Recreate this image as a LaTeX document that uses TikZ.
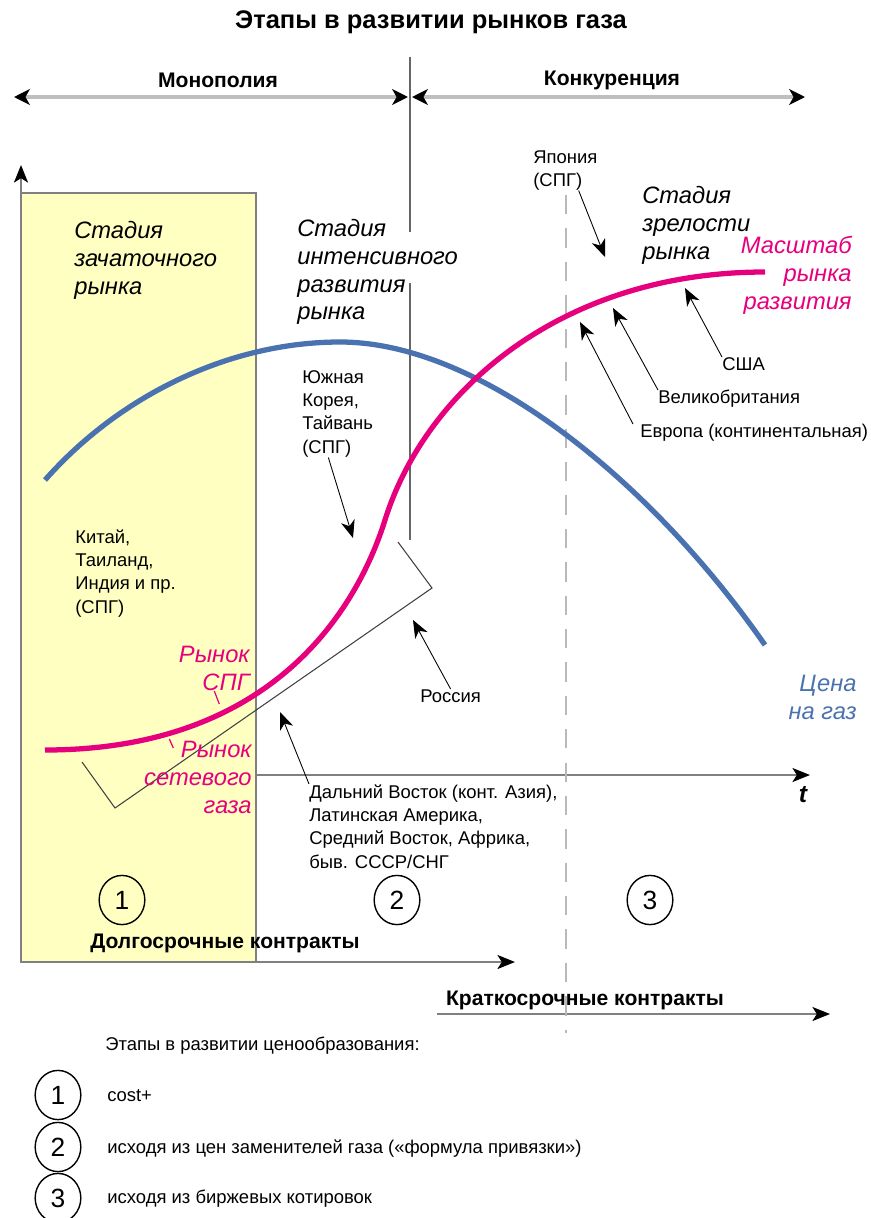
\documentclass[tikz,border=0pt]{standalone}
\usepackage{fontspec}
\setmainfont{Liberation Sans}
\usetikzlibrary{arrows.meta,shapes.geometric}
\definecolor{pinkc}{HTML}{E6007E}
\definecolor{bluec}{HTML}{4A72B0}
\definecolor{yell}{HTML}{FFFFC2}

\begin{document}
\begin{tikzpicture}[x=0.02cm,y=-0.02cm,
  txt/.style={anchor=north west,inner sep=0pt,align=left,font=\fontsize{10.5}{13.3}\selectfont},
  stage/.style={anchor=north west,inner sep=0pt,align=left,font=\fontsize{13.5}{15.8}\selectfont\itshape},
  boldlbl/.style={inner sep=0pt,font=\fontsize{12}{14}\selectfont\bfseries},
  num/.style={draw,ellipse,line width=0.8pt,minimum width=26pt,minimum height=28pt,inner sep=0pt,font=\fontsize{15}{15}\selectfont},
  ptr/.style={-{Stealth[length=10pt,width=8pt,inset=3pt]},line width=0.5pt},
  axis/.style={gray,line width=1.1pt,-{Stealth[color=black,length=10pt,width=8pt,inset=2.5pt]}},
  tick/.style={pinkc,line width=0.7pt}]
  \useasboundingbox (0,0) rectangle (871,1218);
  \node (title) at (431,22) {\fontsize{14.5}{16}\selectfont\bfseries Этапы в развитии рынков газа};
  % Monopoly / competition
  \draw[gray!50,line width=1.8pt,{Stealth[color=black,length=9pt,width=9pt,inset=2.5pt]}-{Stealth[color=black,length=9pt,width=9pt,inset=2.5pt]}] (14,97) -- (408,97);
  \draw[gray!50,line width=1.8pt,{Stealth[color=black,length=9pt,width=9pt,inset=2.5pt]}-{Stealth[color=black,length=9pt,width=9pt,inset=2.5pt]}] (412,97) -- (805,97);
  \node[boldlbl] (mono) at (218,80) {Монополия};
  \node[boldlbl] (konk) at (612,80) {Конкуренция};
  \draw[gray!80!black,line width=0.6pt] (410,57) -- (410,232) (410,283) -- (410,540);
  % Axes and stages
  \filldraw[fill=yell,draw=gray,line width=0.8pt] (21,193) rectangle (256,962);
  \draw[axis] (21,962) -- (21,165);
  \draw[axis] (256,775) -- (810,775);
  \draw[axis] (21,962) -- (515,962);
  \draw[axis] (437,1014) -- (830,1014);
  \draw[gray!55,line width=1.6pt,dash pattern=on 11pt off 8pt] (566,195) -- (566,1033);
  \node[font=\fontsize{14}{14}\selectfont\bfseries\itshape] (t) at (803,795) {t};
  \node[boldlbl] (longterm) at (225,943) {Долгосрочные контракты};
  \node[boldlbl] (shortterm) at (585,1000) {Краткосрочные контракты};
  \node[stage] (st1) at (74,221) {Стадия\\зачаточного\\рынка};
  \node[stage] (st2) at (297,219) {Стадия\\интенсивного\\развития\\рынка};
  \node[stage] (st3) at (642,186) {Стадия\\зрелости\\рынка};
  % Curves
  \draw[bluec,line width=3pt] (45,480) .. controls (120,395) and (230,342) .. (340,342)
    .. controls (480,342) and (650,480) .. (765,645);
  \draw[pinkc,line width=3pt] (45,750) .. controls (280,750) and (360,600) .. (385,520)
    .. controls (425,392) and (560,272) .. (765,272);
  \draw[black!75,line width=0.6pt] (82,762) -- (115,808) -- (432,588) -- (398,542);
  \node[stage,anchor=north east,align=right,text=pinkc] (scale) at (852,236) {Масштаб\\рынка\\развития};
  \node[stage,anchor=north east,align=right,text=bluec] (price) at (857,675) {Цена\\на газ};
  \node[stage,anchor=north east,align=right,text=pinkc] (lng) at (250,646) {Рынок\\СПГ};
  \node[stage,anchor=north east,align=right,text=pinkc] (pipe) at (252,741) {Рынок\\сетевого\\газа};
  \draw[tick] (lng.south) -- ++(5,13);
  \draw[tick] ([xshift=-14pt,yshift=-4pt]pipe.north) -- ++(-4,-9);
  % Countries
  \node[txt] (korea) at (302,370) {Южная\\Корея,\\Тайвань\\(СПГ)};
  \node[txt] (china) at (75,529) {Китай,\\Таиланд,\\Индия и пр.\\(СПГ)};
  \node[txt] (japan) at (533,150) {Япония\\(СПГ)};
  \node[txt] (usa) at (722,357) {США};
  \node[txt] (uk) at (658,390) {Великобритания};
  \node[txt] (europe) at (640,424) {Европа (континентальная)};
  \node[txt] (russia) at (420,689) {Россия};
  \node[txt] (fareast) at (309,784) {Дальний Восток (конт. Азия),\\Латинская Америка,\\Средний Восток, Африка,\\быв. СССР/СНГ};
  \coordinate (koreaTip) at (353,538);
  \coordinate (japanTip) at (605,257);
  \coordinate (usaTip) at (685,288);
  \coordinate (ukTip) at (613,308);
  \coordinate (europeTip) at (580,322);
  \coordinate (russiaTip) at (413,620);
  \coordinate (fareastTip) at (280,712);
  \draw[ptr] ([xshift=15pt]korea.south west) -- (koreaTip);
  \draw[ptr] ([xshift=26pt]japan.south west) -- (japanTip);
  \draw[ptr] (usa.north west) -- (usaTip);
  \draw[ptr] (uk.north west) -- (ukTip);
  \draw[ptr] ([xshift=-4pt]europe.north west) -- (europeTip);
  \draw[ptr] (russia.north) -- (russiaTip);
  \draw[ptr] (fareast.north west) -- (fareastTip);
  \node[num] (c1) at (122,900) {1};
  \node[num] (c2) at (397,900) {2};
  \node[num] (c3) at (650,900) {3};
  % Legend
  \node[txt] (legend) at (105,1037) {Этапы в развитии ценообразования:};
  \node[num] (l1) at (58,1095) {1};
  \node[num] (l2) at (58,1147) {2};
  \node[num] (l3) at (58,1198) {3};
  \node[txt] (l1t) at (107,1089) {cost+};
  \node[txt] (l2t) at (107,1139) {исходя из цен заменителей газа («формула привязки»)};
  \node[txt] (l3t) at (107,1190) {исходя из биржевых котировок};
\end{tikzpicture}
\end{document}
